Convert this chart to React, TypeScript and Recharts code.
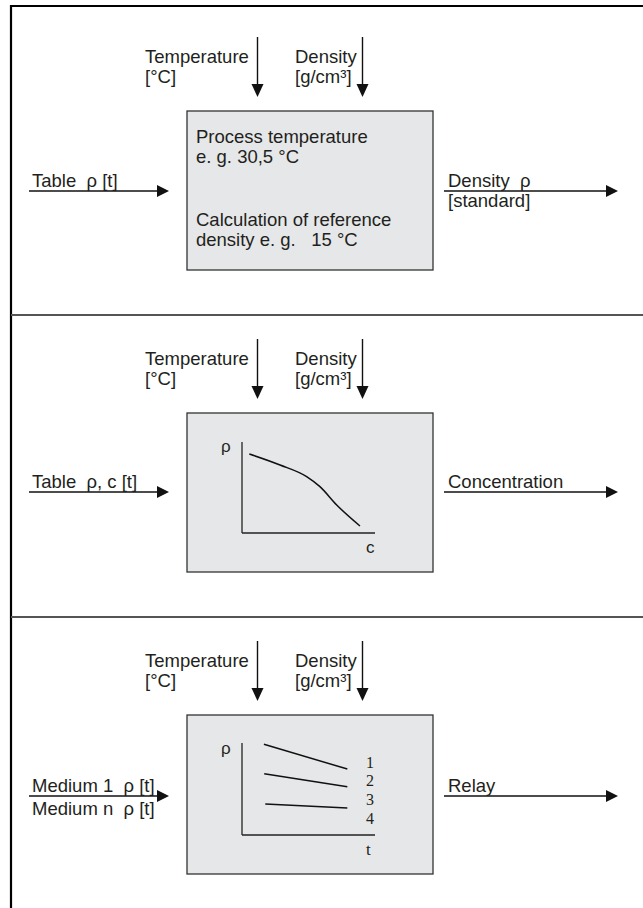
import React from 'react';
import { LineChart, Line, XAxis, YAxis } from 'recharts';

// ---- text content ----
const topLeftLabels = ['Temperature', '[°C]'];
const topRightLabels = ['Density', '[g/cm³]'];
const box1Lines = ['Process temperature', 'e. g. 30,5 °C', 'Calculation of reference', 'density e. g.   15 °C'];
const inputLabels = [['Table  ρ [t]'], ['Table  ρ, c [t]'], ['Medium 1  ρ [t]', 'Medium n  ρ [t]']];
const outputLabels = [['Density  ρ', '[standard]'], ['Concentration'], ['Relay']];
const mediumTickLabels = ['1', '2', '3', '4'];

// ---- data: density vs concentration curve (panel 2) ----
const concCurve = [
  { c: 0.55, rho: 8.68 },
  { c: 2.86, rho: 7.47 },
  { c: 4.86, rho: 6.19 },
  { c: 5.86, rho: 5.09 },
  { c: 7.12, rho: 3.08 },
  { c: 8.87, rho: 0.77 },
];

// ---- data: density vs temperature for media (panel 3) ----
const medium1 = [{ t: 1.65, rho: 9.86 }, { t: 7.92, rho: 7.17 }];
const medium2 = [{ t: 1.67, rho: 6.66 }, { t: 7.92, rho: 5.25 }];
const medium3 = [{ t: 1.75, rho: 3.37 }, { t: 7.92, rho: 2.93 }];
const mediumSeries = [medium1, medium2, medium3];

const panelOffsets = [0, 302, 604];
const FONT = '"Liberation Sans", Arial, Helvetica, sans-serif';
const SERIF = '"Liberation Serif", "Times New Roman", serif';
const TXT = '#231f20';
const FS = 18.5;

function DownArrow({ x, y0, y1 }: { x: number; y0: number; y1: number }) {
  return (
    <g>
      <line x1={x} y1={y0} x2={x} y2={y1 - 10} stroke="#111" strokeWidth={1.4} />
      <polygon points={`${x - 6},${y1 - 13} ${x + 6},${y1 - 13} ${x},${y1}`} fill="#111" />
    </g>
  );
}

function RightArrow({ x0, x1, y }: { x0: number; x1: number; y: number }) {
  return (
    <g>
      <line x1={x0} y1={y} x2={x1 - 10} y2={y} stroke="#111" strokeWidth={1.4} />
      <polygon points={`${x1 - 12},${y - 6} ${x1 - 12},${y + 6} ${x1},${y}`} fill="#111" />
    </g>
  );
}

const axisStyle = { stroke: '#222', strokeWidth: 1.3 };

export default function App() {
  return (
    <div style={{ position: 'absolute', left: 0, top: 0, width: 643, height: 908, background: '#fff', overflow: 'hidden' }}>
      <svg width={643} height={908} style={{ position: 'absolute', left: 0, top: 0 }}>
        {/* frame */}
        <line x1={10} y1={6} x2={643} y2={6} stroke="#000" strokeWidth={2.2} />
        <line x1={11} y1={5} x2={11} y2={908} stroke="#000" strokeWidth={2.2} />
        <line x1={11} y1={315} x2={643} y2={315} stroke="#555" strokeWidth={2} />
        <line x1={11} y1={617} x2={643} y2={617} stroke="#555" strokeWidth={2} />

        {panelOffsets.map((off, i) => {
          const dy = (i === 1 ? -1 : 0) + (i === 2 ? 1 : 0);
          return (
            <g key={i} fontFamily={FONT} fontSize={FS} fill={TXT}>
              <text x={145} y={63 + off}>{topLeftLabels[0]}</text>
              <text x={145} y={83 + off}>{topLeftLabels[1]}</text>
              <text x={295} y={63 + off}>{topRightLabels[0]}</text>
              <text x={295} y={83 + off}>{topRightLabels[1]}</text>
              <DownArrow x={257.5} y0={37 + off} y1={97 + off} />
              <DownArrow x={362.5} y0={37 + off} y1={97 + off} />
              <rect x={187} y={111 + off} width={246} height={159} fill="#e6e7e8" stroke="#333" strokeWidth={1.3} />
              <RightArrow x0={29} x1={169} y={191 + off + dy} />
              <RightArrow x0={444} x1={618} y={191 + off + dy} />
              {inputLabels[i].map((s, k) => (
                <text key={k} x={32} y={187 + off + dy + k * 23} style={{ whiteSpace: 'pre' }}>{s}</text>
              ))}
              {outputLabels[i].map((s, k) => (
                <text key={k} x={448} y={187 + off + dy + k * 20} style={{ whiteSpace: 'pre' }}>{s}</text>
              ))}
            </g>
          );
        })}

        {/* box 1 content */}
        <g fontFamily={FONT} fontSize={FS} fill={TXT}>
          <text x={196} y={143} style={{ whiteSpace: 'pre' }}>{box1Lines[0]}</text>
          <text x={196} y={163} style={{ whiteSpace: 'pre' }}>{box1Lines[1]}</text>
          <text x={196} y={226} style={{ whiteSpace: 'pre' }}>{box1Lines[2]}</text>
          <text x={196} y={246} style={{ whiteSpace: 'pre' }}>{box1Lines[3]}</text>
        </g>

        {/* mini-plot axis labels */}
        <g fontFamily={FONT} fontSize={17} fill={TXT}>
          <text x={221} y={452}>ρ</text>
          <text x={366} y={553}>c</text>
          <text x={221} y={754}>ρ</text>
        </g>
        <g fontFamily={SERIF} fontSize={16} fill={TXT}>
          <text x={366} y={855} fontSize={17}>t</text>
          {mediumTickLabels.map((s, k) => (
            <text key={k} x={366} y={[768, 786, 805, 824][k]}>{s}</text>
          ))}
        </g>
      </svg>

      {/* panel 2: density over concentration */}
      <div style={{ position: 'absolute', left: 232, top: 432 }}>
        <LineChart width={153} height={111} data={concCurve} margin={{ top: 10, right: 10, bottom: 9, left: 9 }}>
          <XAxis dataKey="c" type="number" domain={[0, 10]} tick={false} tickLine={false} height={1} axisLine={axisStyle} />
          <YAxis type="number" domain={[0, 10]} tick={false} tickLine={false} width={1} axisLine={axisStyle} />
          <Line dataKey="rho" type="monotone" stroke="#111" strokeWidth={1.5} dot={false} isAnimationActive={false} />
        </LineChart>
      </div>

      {/* panel 3: density over temperature for several media */}
      <div style={{ position: 'absolute', left: 232, top: 733 }}>
        <LineChart width={153} height={112} margin={{ top: 10, right: 10, bottom: 9, left: 9 }}>
          <XAxis dataKey="t" type="number" domain={[0, 10]} tick={false} tickLine={false} height={1} axisLine={axisStyle} allowDuplicatedCategory={false} />
          <YAxis type="number" domain={[0, 10]} tick={false} tickLine={false} width={1} axisLine={axisStyle} />
          {mediumSeries.map((d, k) => (
            <Line key={k} data={d} dataKey="rho" type="linear" stroke="#111" strokeWidth={1.5} dot={false} isAnimationActive={false} />
          ))}
        </LineChart>
      </div>
    </div>
  );
}
